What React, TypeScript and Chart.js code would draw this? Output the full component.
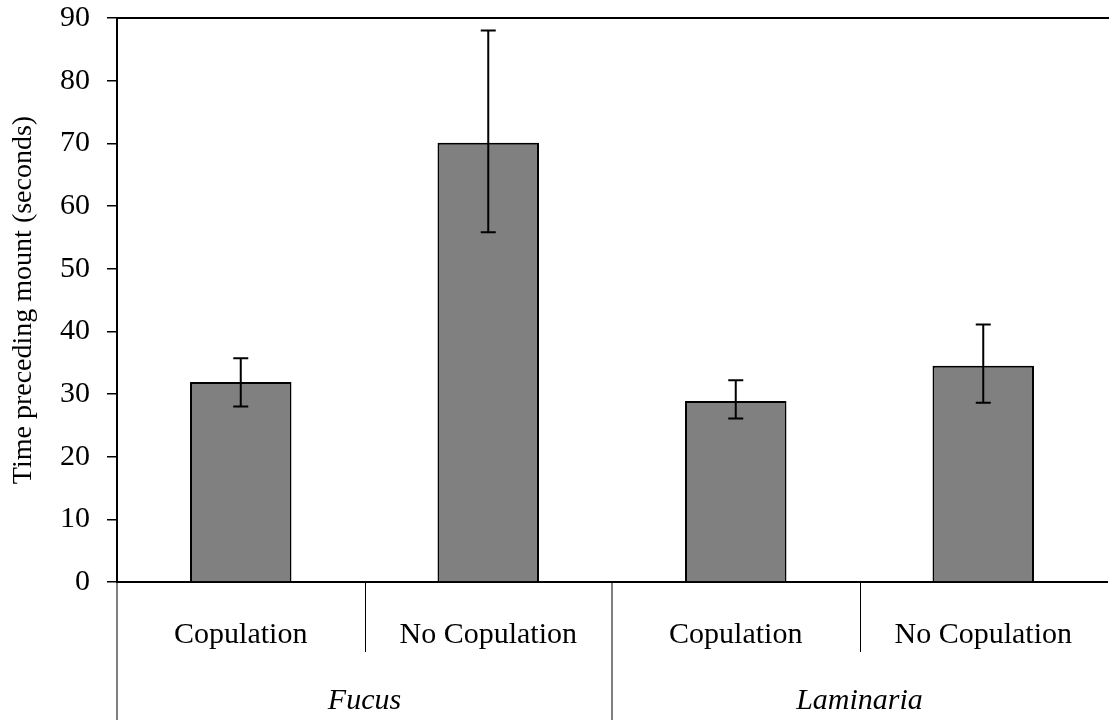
import React, { useEffect, useRef } from 'react';
import { Chart, registerables } from 'chart.js';

Chart.register(...registerables);

const categories = ['Copulation', 'No Copulation', 'Copulation', 'No Copulation'];
const groups = ['Fucus', 'Laminaria'];
const groupSizes = [2, 2];
const means = [31.9, 70.1, 28.9, 34.5];
const errLow = [28.0, 55.8, 26.1, 28.6];
const errHigh = [35.7, 88.0, 32.2, 41.1];
const yMin = 0;
const yMax = 90;
const yStep = 10;
const yTitle = 'Time preceding mount (seconds)';

const FONT = '"Liberation Serif", "Times New Roman", serif';

const overlay = {
  id: 'overlay',
  afterDatasetsDraw(chart: any) {
    const { ctx, chartArea, scales } = chart;
    const x = scales.x;
    const y = scales.y;
    ctx.save();
    // error bars
    ctx.strokeStyle = '#000';
    ctx.lineWidth = 2;
    means.forEach((_m, i) => {
      const px = x.getPixelForValue(i);
      const yl = y.getPixelForValue(errLow[i]);
      const yh = y.getPixelForValue(errHigh[i]);
      ctx.beginPath();
      ctx.moveTo(px, yl);
      ctx.lineTo(px, yh);
      ctx.moveTo(px - 7.5, yl);
      ctx.lineTo(px + 7.5, yl);
      ctx.moveTo(px - 7.5, yh);
      ctx.lineTo(px + 7.5, yh);
      ctx.stroke();
    });
    // top border line
    ctx.beginPath();
    ctx.moveTo(chartArea.left, chartArea.top);
    ctx.lineTo(chart.width, chartArea.top);
    ctx.stroke();

    // category dividers
    const half = (x.getPixelForValue(1) - x.getPixelForValue(0)) / 2;
    const groupStarts: number[] = [];
    let acc = 0;
    groupSizes.forEach((s) => {
      groupStarts.push(acc);
      acc += s;
    });
    categories.forEach((_c, i) => {
      const bx = i === 0 ? chartArea.left : x.getPixelForValue(i) - half;
      const isGroup = groupStarts.includes(i);
      ctx.beginPath();
      if (isGroup) {
        ctx.strokeStyle = '#7f7f7f';
        ctx.lineWidth = 2;
        ctx.moveTo(bx, chartArea.bottom + 1);
        ctx.lineTo(bx, chart.height);
      } else {
        ctx.strokeStyle = '#000';
        ctx.lineWidth = 1;
        ctx.moveTo(Math.round(bx) + 0.5, chartArea.bottom);
        ctx.lineTo(Math.round(bx) + 0.5, chartArea.bottom + 70);
      }
      ctx.stroke();
    });

    // group labels
    ctx.fillStyle = '#000';
    ctx.font = 'italic 30px ' + FONT;
    ctx.textAlign = 'center';
    ctx.textBaseline = 'middle';
    groups.forEach((g, gi) => {
      const s = groupStarts[gi];
      const e = s + groupSizes[gi] - 1;
      const cx = (x.getPixelForValue(s) + x.getPixelForValue(e)) / 2;
      ctx.fillText(g, cx, chartArea.bottom + 119);
    });
    ctx.restore();
  },
};

export default function App() {
  const ref = useRef<HTMLCanvasElement>(null);
  useEffect(() => {
    document.body.style.margin = '0';
    const chart = new Chart(ref.current as HTMLCanvasElement, {
      type: 'bar',
      data: {
        labels: categories,
        datasets: [
          {
            data: means,
            backgroundColor: '#808080',
            borderColor: '#000',
            borderWidth: 2,
            barPercentage: 0.41,
            categoryPercentage: 1,
          },
        ],
      },
      options: {
        animation: false,
        responsive: true,
        maintainAspectRatio: false,
        layout: { padding: { top: 18, right: 2, left: 0, bottom: 0 } },
        plugins: { legend: { display: false }, tooltip: { enabled: false } },
        scales: {
          x: {
            afterFit: (s: any) => {
              s.height = 138;
              s.paddingLeft = 0;
              s.paddingRight = 0;
            },
            grid: { display: false },
            border: { display: true, color: '#000', width: 2 },
            ticks: {
              color: '#000',
              font: { family: FONT, size: 30 },
              padding: 27,
              maxRotation: 0,
              autoSkip: false,
            },
          },
          y: {
            min: yMin,
            max: yMax,
            afterFit: (s: any) => {
              s.width = 117;
              s.paddingTop = 0;
              s.paddingBottom = 0;
            },
            grid: {
              display: true,
              drawOnChartArea: false,
              drawTicks: true,
              tickLength: 10,
              color: '#000',
              lineWidth: 1.5,
            },
            border: { display: true, color: '#000', width: 2 },
            ticks: {
              stepSize: yStep,
              color: '#000',
              font: { family: FONT, size: 30 },
              padding: 17,
            },
            title: {
              display: true,
              text: yTitle,
              color: '#000',
              font: { family: FONT, size: 28 },
              padding: { top: 7, bottom: 0 },
            },
          },
        },
      },
      plugins: [overlay],
    });
    return () => chart.destroy();
  }, []);
  return (
    <div style={{ position: 'absolute', left: 0, top: 0, width: 1109, height: 720 }}>
      <canvas ref={ref} />
    </div>
  );
}
